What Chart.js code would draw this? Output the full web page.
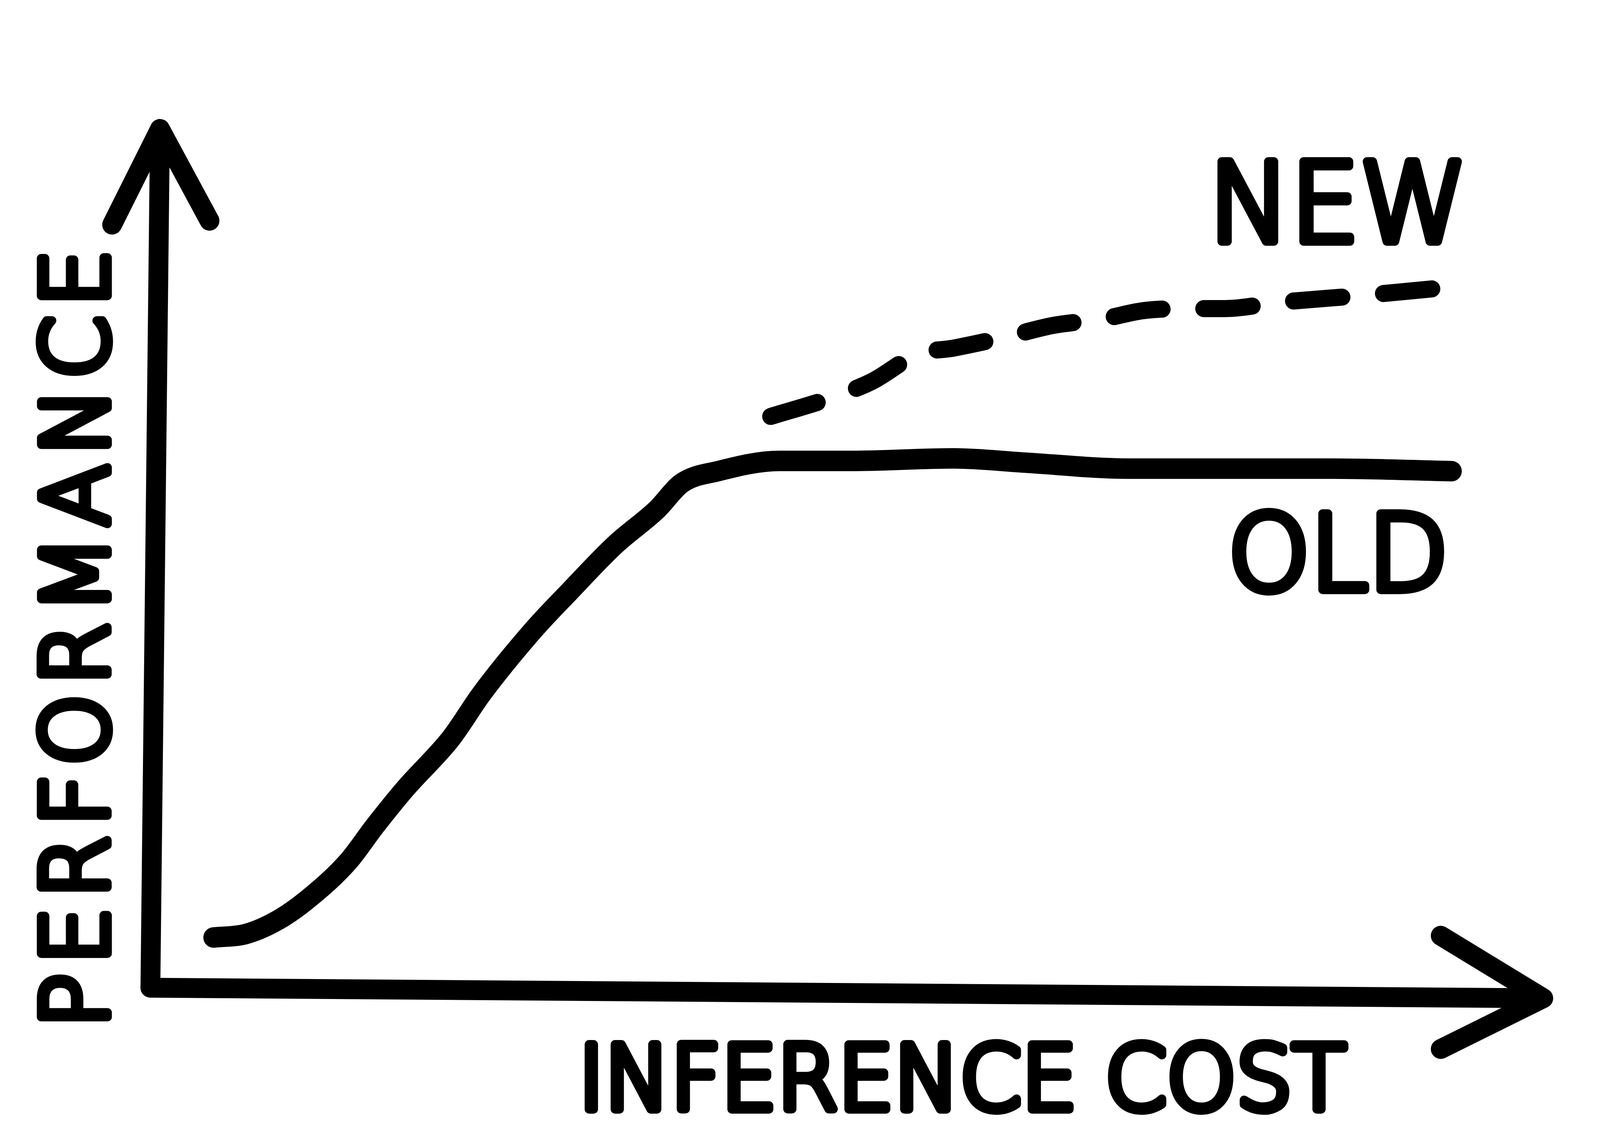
<!DOCTYPE html>
<html>
<head>
<meta charset="utf-8">
<script src="https://cdn.jsdelivr.net/npm/chart.js@4/dist/chart.umd.min.js"></script>
<style>
  html, body { margin: 0; padding: 0; background: #fff; overflow: hidden; }
  #wrap { width: 100vw; height: 100vh; position: relative; }
</style>
</head>
<body>
<div id="wrap"><canvas id="myChart"></canvas></div>
<script>
// datos (escala 0-100 en ambos ejes)
const oldX = [4.3, 6.6, 8.9, 11.1, 14.0, 15.9, 18.1, 21.4, 23.6, 27.3, 29.9, 33.2, 36.2, 38.0, 40.6, 45.0, 50.2, 57.6, 62.7, 70.1, 77.5, 84.9, 93.4];
const oldY = [5.5, 5.9, 7.5, 10.0, 14.4, 18.5, 22.9, 28.8, 34.0, 41.4, 45.9, 51.4, 55.5, 58.6, 60.0, 61.2, 61.2, 61.5, 61.0, 60.3, 60.3, 60.3, 60.0];
const newX = [44.4, 48.6, 51.7, 55.0, 57.6, 61.6, 64.6, 68.3, 71.4, 74.9, 77.1, 80.8, 82.1, 86.7, 92.6];
const newY = [66.4, 68.5, 70.5, 73.7, 74.4, 75.8, 77.0, 77.8, 78.8, 79.0, 79.0, 79.7, 79.9, 80.5, 81.4];
const seriesNames = ['OLD', 'NEW'];
const xTitle = 'INFERENCE COST';
const yTitle = 'PERFORMANCE';

const toPts = (xs, ys) => xs.map((x, i) => ({ x: x, y: ys[i] }));

// todo se mide sobre un lienzo de 4681x2923 y se escala al tamaño real
const wrap = document.getElementById('wrap');
const W = wrap.clientWidth, H = wrap.clientHeight;
const sx = W / 4681, sy = H / 2923;
const px = v => v * sx;
const py = v => v * sy;

// texto tipo marcador: relleno + trazo grueso redondo
function markerText(ctx, txt, x, y, size, rot, spacing) {
    ctx.save();
    ctx.translate(px(x), py(y));
    if (rot) ctx.rotate(rot);
    ctx.font = '200 ' + (size * sx) + 'px "DejaVu Sans"';
    ctx.letterSpacing = ((spacing || 0) * sx) + 'px';
    ctx.textAlign = 'center';
    ctx.textBaseline = 'middle';
    ctx.fillStyle = '#000';
    ctx.strokeStyle = '#000';
    ctx.lineWidth = 26 * sx;
    ctx.lineJoin = 'round';
    ctx.lineCap = 'round';
    // el espaciado se añade tras la ultima letra: compensar
    const off = (spacing || 0) * sx / 2;
    ctx.fillText(txt, off, 0);
    ctx.strokeText(txt, off, 0);
    ctx.restore();
}

const sketchPlugin = {
    id: 'sketch',
    beforeDatasetsDraw(chart) {
        const { ctx, chartArea: a } = chart;
        ctx.save();
        ctx.strokeStyle = '#000';
        ctx.lineWidth = 58 * sx;
        ctx.lineCap = 'round';
        ctx.lineJoin = 'round';
        // eje y con flecha
        const tx = a.left + px(18), ty = a.top;
        ctx.beginPath();
        ctx.moveTo(a.left - px(10), a.bottom + py(8));
        ctx.lineTo(tx, ty);
        ctx.moveTo(tx - px(140), ty + py(245));
        ctx.lineTo(tx, ty);
        ctx.lineTo(tx + px(145), ty + py(235));
        ctx.stroke();
        // eje x con flecha
        const rx = a.right, ry = a.bottom + py(35);
        ctx.beginPath();
        ctx.moveTo(a.left - px(10), a.bottom + py(8));
        ctx.lineTo(rx, ry);
        ctx.moveTo(rx - px(300), ry - py(160));
        ctx.lineTo(rx, ry);
        ctx.lineTo(rx - px(300), ry + py(130));
        ctx.stroke();
        ctx.restore();
    },
    afterDraw(chart) {
        const ctx = chart.ctx;
        markerText(ctx, yTitle, 245, 1635, 265, -Math.PI / 2, 26);
        markerText(ctx, xTitle, 2815, 2780, 258, 0, 0);
        markerText(ctx, seriesNames[1], 3915, 545, 320, 0, 0);
        markerText(ctx, seriesNames[0], 3915, 1440, 305, 0, 0);
    }
};

var ctx = document.getElementById('myChart').getContext('2d');
var myChart = new Chart(ctx, {
    type: 'line',
    data: {
        datasets: [{
            label: seriesNames[0],
            data: toPts(oldX, oldY),
            borderColor: '#000',
            borderWidth: 60 * sx,
            borderCapStyle: 'round',
            borderJoinStyle: 'round',
            cubicInterpolationMode: 'monotone',
            pointRadius: 0
        },
        {
            label: seriesNames[1],
            data: toPts(newX, newY),
            borderColor: '#000',
            borderWidth: 50 * sx,
            borderDash: [142 * sx, 122 * sx],
            borderCapStyle: 'round',
            borderJoinStyle: 'round',
            cubicInterpolationMode: 'monotone',
            pointRadius: 0
        }]
    },
    options: {
        responsive: true,
        maintainAspectRatio: false,
        animation: false,
        layout: { padding: { left: px(450), right: px(166), top: py(330), bottom: py(403) } },
        scales: {
            x: { type: 'linear', min: 0, max: 100, display: false },
            y: { min: 0, max: 100, display: false }
        },
        plugins: {
            legend: { display: false },
            tooltip: { enabled: false }
        }
    },
    plugins: [sketchPlugin]
});
</script>
</body>
</html>
